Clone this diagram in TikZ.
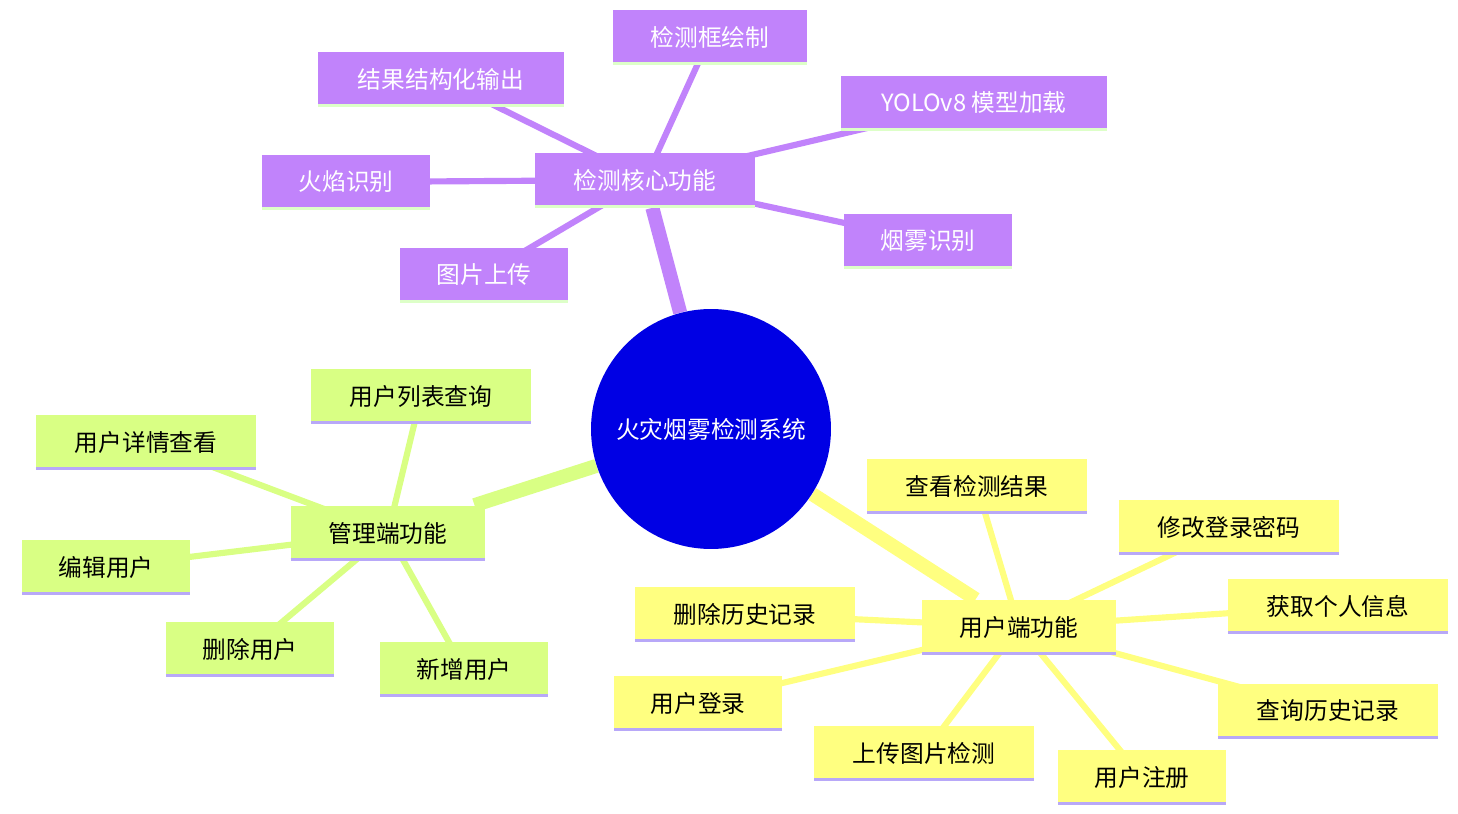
\documentclass[tikz,border=0pt]{standalone}
\usepackage{fontspec}
\setmainfont{Noto Sans CJK SC}
\usetikzlibrary{backgrounds}
\definecolor{purp}{HTML}{C183FB}
\definecolor{grn}{HTML}{D9FF84}
\definecolor{ylw}{HTML}{FFFF80}
\definecolor{lgrn}{HTML}{DDFFC8}
\definecolor{lav}{HTML}{B8A8F8}
\definecolor{rootblue}{HTML}{0000E4}
\tikzset{
  box/.style={minimum height=1.1cm, inner sep=0pt, font=\fontsize{13.5}{16}\selectfont},
  pbox/.style={box, fill=purp, text=white, path picture={\draw[line width=2.5pt,lgrn] (path picture bounding box.south west) -- (path picture bounding box.south east);}},
  gbox/.style={box, fill=grn, path picture={\draw[line width=2.5pt,lav] (path picture bounding box.south west) -- (path picture bounding box.south east);}},
  ybox/.style={box, fill=ylw, path picture={\draw[line width=2.5pt,lav] (path picture bounding box.south west) -- (path picture bounding box.south east);}},
  trunk/.style={line width=8pt},
  twig/.style={line width=3.5pt}
}
\begin{document}
\begin{tikzpicture}[x=0.02cm,y=-0.02cm]
	\useasboundingbox (0,0) rectangle (1458,814);
	% Wurzel
	\node[circle, fill=rootblue, text=white, minimum size=4.8cm, inner sep=0pt, font=\fontsize{13.5}{16}\selectfont] (root) at (711,429) {火灾烟雾检测系统};
	% Erkennung
	\node[pbox, minimum width=4.4cm] (core) at (645,180) {检测核心功能};
	\node[pbox, minimum width=3.88cm] (draw) at (710,37) {检测框绘制};
	\node[pbox, minimum width=4.94cm] (out) at (441,79) {结果结构化输出};
	\node[pbox, minimum width=5.32cm] (yolo) at (974,103) {YOLOv8 模型加载};
	\node[pbox, minimum width=3.38cm] (fire) at (346,182) {火焰识别};
	\node[pbox, minimum width=3.36cm] (smoke) at (928,241) {烟雾识别};
	\node[pbox, minimum width=3.36cm] (upl) at (484,275) {图片上传};
	% Verwaltung
	\node[gbox, minimum width=3.9cm] (admin) at (388,533) {管理端功能};
	\node[gbox, minimum width=4.4cm] (ulist) at (421,396) {用户列表查询};
	\node[gbox, minimum width=4.4cm] (udet) at (146,442) {用户详情查看};
	\node[gbox, minimum width=3.36cm] (uedit) at (106,567) {编辑用户};
	\node[gbox, minimum width=3.36cm] (udel) at (250,649) {删除用户};
	\node[gbox, minimum width=3.36cm] (uadd) at (464,669) {新增用户};
	% Benutzer
	\node[ybox, minimum width=3.88cm] (user) at (1019,627) {用户端功能};
	\node[ybox, minimum width=4.4cm] (res) at (977,486) {查看检测结果};
	\node[ybox, minimum width=4.4cm] (pwd) at (1229,527) {修改登录密码};
	\node[ybox, minimum width=4.4cm] (info) at (1338,606) {获取个人信息};
	\node[ybox, minimum width=4.4cm] (hdel) at (745,614) {删除历史记录};
	\node[ybox, minimum width=3.36cm] (login) at (698,703) {用户登录};
	\node[ybox, minimum width=4.4cm] (det) at (924,753) {上传图片检测};
	\node[ybox, minimum width=4.4cm] (hist) at (1328,711) {查询历史记录};
	\node[ybox, minimum width=3.36cm] (reg) at (1142,777) {用户注册};
	% Verbindungen
	\begin{scope}[on background layer]
	\draw[trunk, purp] (root) -- (core);
	\draw[trunk, grn] (root) -- (admin);
	\draw[trunk, ylw] (root) -- (user);
	\foreach \n in {draw,out,yolo,fire,smoke,upl}
		\draw[twig, purp] (core.center) -- (\n.center);
	\foreach \n in {ulist,udet,uedit,udel,uadd}
		\draw[twig, grn] (admin.center) -- (\n.center);
	\foreach \n in {res,pwd,info,hdel,login,det,hist,reg}
		\draw[twig, ylw] (user.center) -- (\n.center);
	\end{scope}
\end{tikzpicture}
\end{document}
